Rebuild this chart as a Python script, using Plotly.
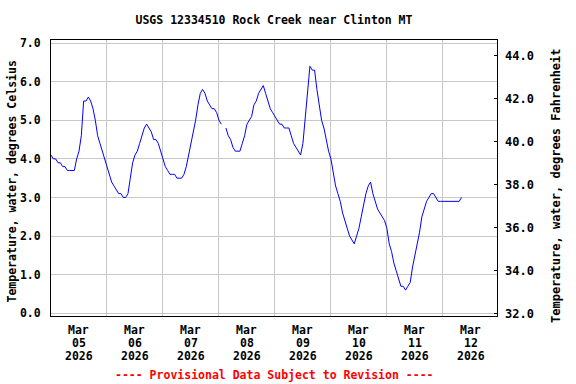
import pandas as pd
import plotly.graph_objects as go

# Hours since 2026-03-05 00:00 and water temperature (deg C)
hours = list(range(0, 177))
temp_c = [
    4.1, 4.0, 4.0, 3.9, 3.9, 3.8, 3.8, 3.7, 3.7, 3.7, 3.7, 4.0, 4.2, 4.6, 5.5, 5.5,
    5.6, 5.5, 5.3, 5.0, 4.6, 4.4, 4.2, 4.0,
    3.8, 3.6, 3.4, 3.3, 3.2, 3.1, 3.1, 3.0, 3.0, 3.1, 3.5, 3.9, 4.1, 4.2, 4.4, 4.6,
    4.8, 4.9, 4.8, 4.7, 4.5, 4.5, 4.4, 4.2,
    4.0, 3.8, 3.7, 3.6, 3.6, 3.6, 3.5, 3.5, 3.5, 3.6, 3.8, 4.1, 4.4, 4.7, 5.0, 5.4,
    5.7, 5.8, 5.7, 5.5, 5.4, 5.3, 5.3, 5.2,
    5.0, 4.9, None, 4.8, 4.6, 4.5, 4.3, 4.2, 4.2, 4.2, 4.4, 4.6, 4.9, 5.0, 5.1, 5.4,
    5.5, 5.7, 5.8, 5.9, 5.7, 5.5, 5.3, 5.2,
    5.1, 5.0, 4.9, 4.9, 4.8, 4.8, 4.8, 4.6, 4.4, 4.3, 4.2, 4.1, 4.4, 5.1, 5.7, 6.4,
    6.3, 6.3, 5.8, 5.4, 5.0, 4.8, 4.5, 4.2,
    4.0, 3.6, 3.3, 3.1, 2.9, 2.6, 2.4, 2.2, 2.0, 1.9, 1.8, 2.0, 2.2, 2.5, 2.8, 3.1,
    3.3, 3.4, 3.1, 2.9, 2.7, 2.6, 2.5, 2.4,
    2.2, 1.8, 1.6, 1.3, 1.1, 0.9, 0.7, 0.7, 0.6, 0.7, 0.8, 1.2, 1.5, 1.8, 2.1, 2.5,
    2.7, 2.9, 3.0, 3.1, 3.1, 3.0, 2.9, 2.9,
    2.9, 2.9, 2.9, 2.9, 2.9, 2.9, 2.9, 2.9, 3.0,
]

day_months = ["Mar"] * 8
day_numbers = ["05", "06", "07", "08", "09", "10", "11", "12"]
day_years = ["2026"] * 8
y_left_ticks = [0, 1, 2, 3, 4, 5, 6, 7]
y_right_ticks = [32, 34, 36, 38, 40, 42, 44]

start = pd.Timestamp("2026-03-05 00:00")
times = [start + pd.Timedelta(hours=h) for h in hours]
temp_f = [None if v is None else v * 1.8 + 32 for v in temp_c]

FONT = "DejaVu Sans Mono"
FS = 11.5
W, H = 576, 384

fig = go.Figure()
fig.add_trace(go.Scatter(x=times, y=temp_c, mode="lines",
                         line=dict(color="#0000FF", width=1),
                         connectgaps=False, hoverinfo="skip", showlegend=False))
fig.add_trace(go.Scatter(x=times, y=temp_f, mode="lines", yaxis="y2",
                         line=dict(color="rgba(0,0,0,0)", width=0),
                         hoverinfo="skip", showlegend=False))

y_lo, y_hi = -0.07, 7.08

fig.update_layout(
    width=W, height=H,
    margin=dict(l=51, r=W - 497.3, t=39.5, b=H - 316),
    paper_bgcolor="white", plot_bgcolor="white",
    font=dict(family=FONT, size=FS, color="black", weight="bold"),
    title=dict(text="USGS 12334510 Rock Creek near Clinton MT",
               x=0.5, xref="paper", xanchor="center",
               y=1 - 20 / H, yref="container", yanchor="middle",
               font=dict(family=FONT, size=FS, color="black", weight="bold")),
    xaxis=dict(
        type="date",
        range=[start, start + pd.Timedelta(hours=191.2)],
        tick0=start, dtick=86400000,
        showgrid=True, gridcolor="#C8C8C8", gridwidth=1,
        showticklabels=False, ticks="",
        showline=True, linecolor="black", linewidth=1, mirror=True,
        zeroline=False,
    ),
    yaxis=dict(
        range=[y_lo, y_hi],
        tickvals=y_left_ticks, tickformat=".1f",
        showgrid=True, gridcolor="#C8C8C8", gridwidth=1,
        ticks="", ticklabelstandoff=7,
        tickfont=dict(family=FONT, size=FS, color="black", weight="bold"),
        showline=True, linecolor="black", linewidth=1, mirror=True,
        zeroline=False,
    ),
    yaxis2=dict(
        overlaying="y", side="right",
        range=[y_lo * 1.8 + 32, y_hi * 1.8 + 32],
        tickvals=y_right_ticks, tickformat=".1f",
        showgrid=False, ticks="inside", ticklen=3, tickcolor="black",
        ticklabelstandoff=7,
        tickfont=dict(family=FONT, size=12, color="black", weight="bold"),
        showline=False, zeroline=False,
    ),
)

annotations = []
for i in range(len(day_numbers)):
    xd = start + pd.Timedelta(days=i, hours=12)
    for txt, shift in ((day_months[i], -14), (day_numbers[i], -27), (day_years[i], -40)):
        annotations.append(dict(x=xd, xref="x", y=0, yref="paper", yanchor="middle",
                                yshift=shift, text=txt, showarrow=False,
                                font=dict(family=FONT, size=FS, color="black", weight="bold")))

annotations.append(dict(x=0, xref="paper", xshift=-39.5, y=0.5, yref="paper", yshift=-4,
                        text="Temperature, water, degrees Celsius", textangle=-90,
                        showarrow=False, xanchor="center", yanchor="middle", borderpad=0,
                        font=dict(family=FONT, size=FS, color="black", weight="bold")))
annotations.append(dict(x=1, xref="paper", xshift=58.5, y=0.5, yref="paper", yshift=-7.5,
                        text="Temperature, water, degrees Fahrenheit", textangle=-90,
                        showarrow=False, xanchor="center", yanchor="middle",
                        font=dict(family=FONT, size=12, color="black", weight="bold")))
annotations.append(dict(x=0.5, xref="paper", y=0, yref="paper", yshift=-59,
                        text="---- Provisional Data Subject to Revision ----",
                        showarrow=False, xanchor="center", yanchor="middle",
                        font=dict(family=FONT, size=FS, color="#FF0000", weight="bold")))
fig.update_layout(annotations=annotations)

fig.write_html("out.html", config={"displayModeBar": False},
               post_script="document.body.style.margin='0px';")
